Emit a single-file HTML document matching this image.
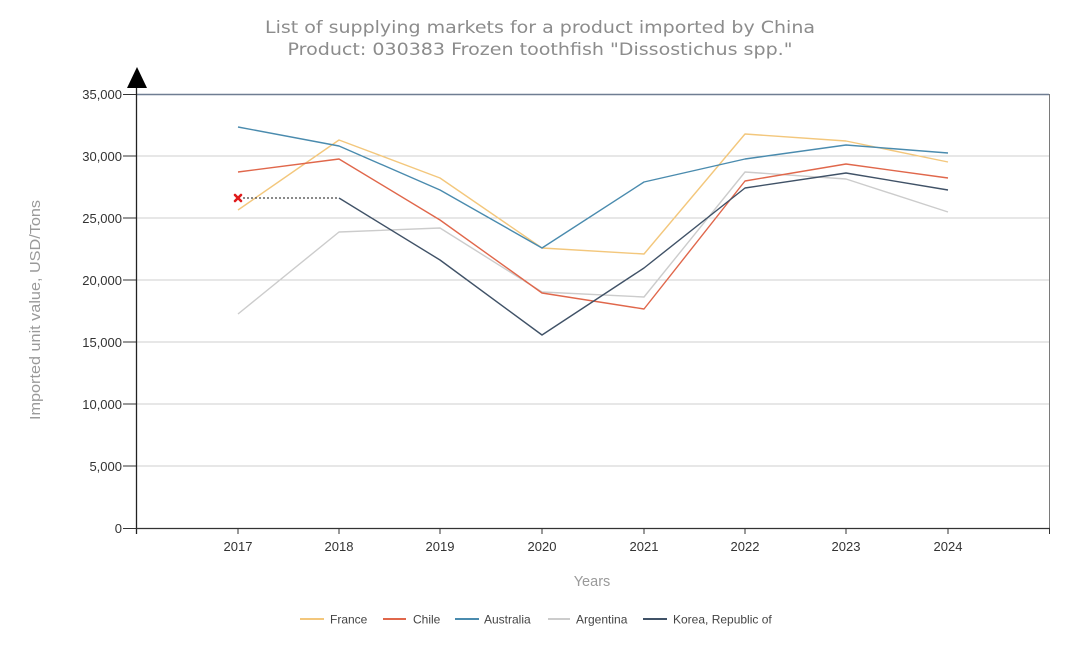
<!DOCTYPE html>
<html><head><meta charset="utf-8"><style>
html,body{margin:0;padding:0;background:#fff;}
svg{display:block;}
</style></head><body>
<svg width="1080" height="645" viewBox="0 0 1080 645" xmlns="http://www.w3.org/2000/svg">
<rect width="1080" height="645" fill="#fff"/>
<!-- title -->
<g font-family="'DejaVu Sans', 'Liberation Sans', sans-serif" font-size="16.5" fill="#8c8c8c" text-anchor="middle">
<text x="540" y="33" textLength="550" lengthAdjust="spacingAndGlyphs">List of supplying markets for a product imported by China</text>
<text x="540" y="55" textLength="505" lengthAdjust="spacingAndGlyphs">Product: 030383 Frozen toothfish "Dissostichus spp."</text>
</g>
<!-- gridlines -->
<g stroke="#cfcfcf" stroke-width="1">
<line x1="136" y1="156" x2="1049" y2="156"/>
<line x1="136" y1="218" x2="1049" y2="218"/>
<line x1="136" y1="280" x2="1049" y2="280"/>
<line x1="136" y1="342" x2="1049" y2="342"/>
<line x1="136" y1="404" x2="1049" y2="404"/>
<line x1="136" y1="466" x2="1049" y2="466"/>
</g>
<line x1="136" y1="94.5" x2="1049" y2="94.5" stroke="#6f7d92" stroke-width="1.5"/>
<line x1="1049.5" y1="94" x2="1049.5" y2="533" stroke="#7a7a7a" stroke-width="1"/>
<!-- y axis ticks -->
<g stroke="#333" stroke-width="1">
<line x1="123" y1="94.5" x2="136" y2="94.5"/>
<line x1="123" y1="156" x2="136" y2="156"/>
<line x1="123" y1="218" x2="136" y2="218"/>
<line x1="123" y1="280" x2="136" y2="280"/>
<line x1="123" y1="342" x2="136" y2="342"/>
<line x1="123" y1="404" x2="136" y2="404"/>
<line x1="123" y1="466" x2="136" y2="466"/>
<line x1="123" y1="528.5" x2="136" y2="528.5"/>
</g>
<!-- axes -->
<line x1="136.5" y1="86" x2="136.5" y2="534" stroke="#222" stroke-width="1.3"/>
<line x1="136" y1="528.5" x2="1050" y2="528.5" stroke="#333" stroke-width="1.3"/>
<polygon points="137,67 127,88 147,88" fill="#000"/>
<!-- x ticks -->
<g stroke="#333" stroke-width="1">
<line x1="238" y1="528" x2="238" y2="534"/>
<line x1="339" y1="528" x2="339" y2="534"/>
<line x1="440" y1="528" x2="440" y2="534"/>
<line x1="542" y1="528" x2="542" y2="534"/>
<line x1="644" y1="528" x2="644" y2="534"/>
<line x1="745" y1="528" x2="745" y2="534"/>
<line x1="846" y1="528" x2="846" y2="534"/>
<line x1="948" y1="528" x2="948" y2="534"/>
<line x1="1049.5" y1="528" x2="1049.5" y2="534"/>
</g>
<!-- y labels -->
<g font-family="'Liberation Sans', Arial, sans-serif" font-size="13" fill="#333" text-anchor="end">
<text x="122" y="99">35,000</text>
<text x="122" y="161">30,000</text>
<text x="122" y="223">25,000</text>
<text x="122" y="285">20,000</text>
<text x="122" y="347">15,000</text>
<text x="122" y="409">10,000</text>
<text x="122" y="471">5,000</text>
<text x="122" y="533">0</text>
</g>
<!-- x labels -->
<g font-family="'Liberation Sans', Arial, sans-serif" font-size="13" fill="#333" text-anchor="middle">
<text x="238" y="551">2017</text>
<text x="339" y="551">2018</text>
<text x="440" y="551">2019</text>
<text x="542" y="551">2020</text>
<text x="644" y="551">2021</text>
<text x="745" y="551">2022</text>
<text x="846" y="551">2023</text>
<text x="948" y="551">2024</text>
</g>
<text x="592" y="586" font-family="'Liberation Sans', Arial, sans-serif" font-size="14.5" fill="#9a9a9a" text-anchor="middle">Years</text>
<text transform="translate(40,310) rotate(-90)" font-family="'Liberation Sans', Arial, sans-serif" font-size="14.5" fill="#9a9a9a" text-anchor="middle" textLength="220" lengthAdjust="spacingAndGlyphs">Imported unit value, USD/Tons</text>
<!-- series -->
<g fill="none" stroke-width="1.4" stroke-linejoin="round">
<polyline stroke="#cccccc" points="238,314 339,232 440,228 542,292 644,297 745,172 846,179 948,212"/>
<polyline stroke="#f3c77c" points="238,210 339,140 440,178 542,248 644,254 745,134 846,141 948,162"/>
<polyline stroke="#e0674b" points="238,172 339,159 440,220 542,293 644,309 745,181 846,164 948,178"/>
<polyline stroke="#4a8bae" points="238,127 339,146 440,190 542,248 644,182 745,159 846,145 948,153"/>
<polyline stroke="#405267" points="339,198 440,260 542,335 644,268 745,188 846,173 948,190"/>
<line x1="243" y1="198" x2="339" y2="198" stroke="#444" stroke-width="1.3" stroke-dasharray="2,2"/>
</g>
<!-- marker -->
<g stroke="#e01b1b" stroke-width="2.6" stroke-linecap="round">
<line x1="235" y1="195" x2="241" y2="201"/>
<line x1="241" y1="195" x2="235" y2="201"/>
</g>
<!-- legend -->
<g stroke-width="2">
<line x1="300" y1="619" x2="324" y2="619" stroke="#f3c77c"/>
<line x1="383" y1="619" x2="406" y2="619" stroke="#e0674b"/>
<line x1="455" y1="619" x2="479" y2="619" stroke="#4a8bae"/>
<line x1="548" y1="619" x2="570" y2="619" stroke="#cccccc"/>
<line x1="643" y1="619" x2="667" y2="619" stroke="#405267"/>
</g>
<g font-family="'Liberation Sans', Arial, sans-serif" font-size="12" fill="#444">
<text x="330" y="623.5">France</text>
<text x="413" y="623.5">Chile</text>
<text x="484" y="623.5">Australia</text>
<text x="576" y="623.5">Argentina</text>
<text x="673" y="623.5">Korea, Republic of</text>
</g>
</svg>
</body></html>
